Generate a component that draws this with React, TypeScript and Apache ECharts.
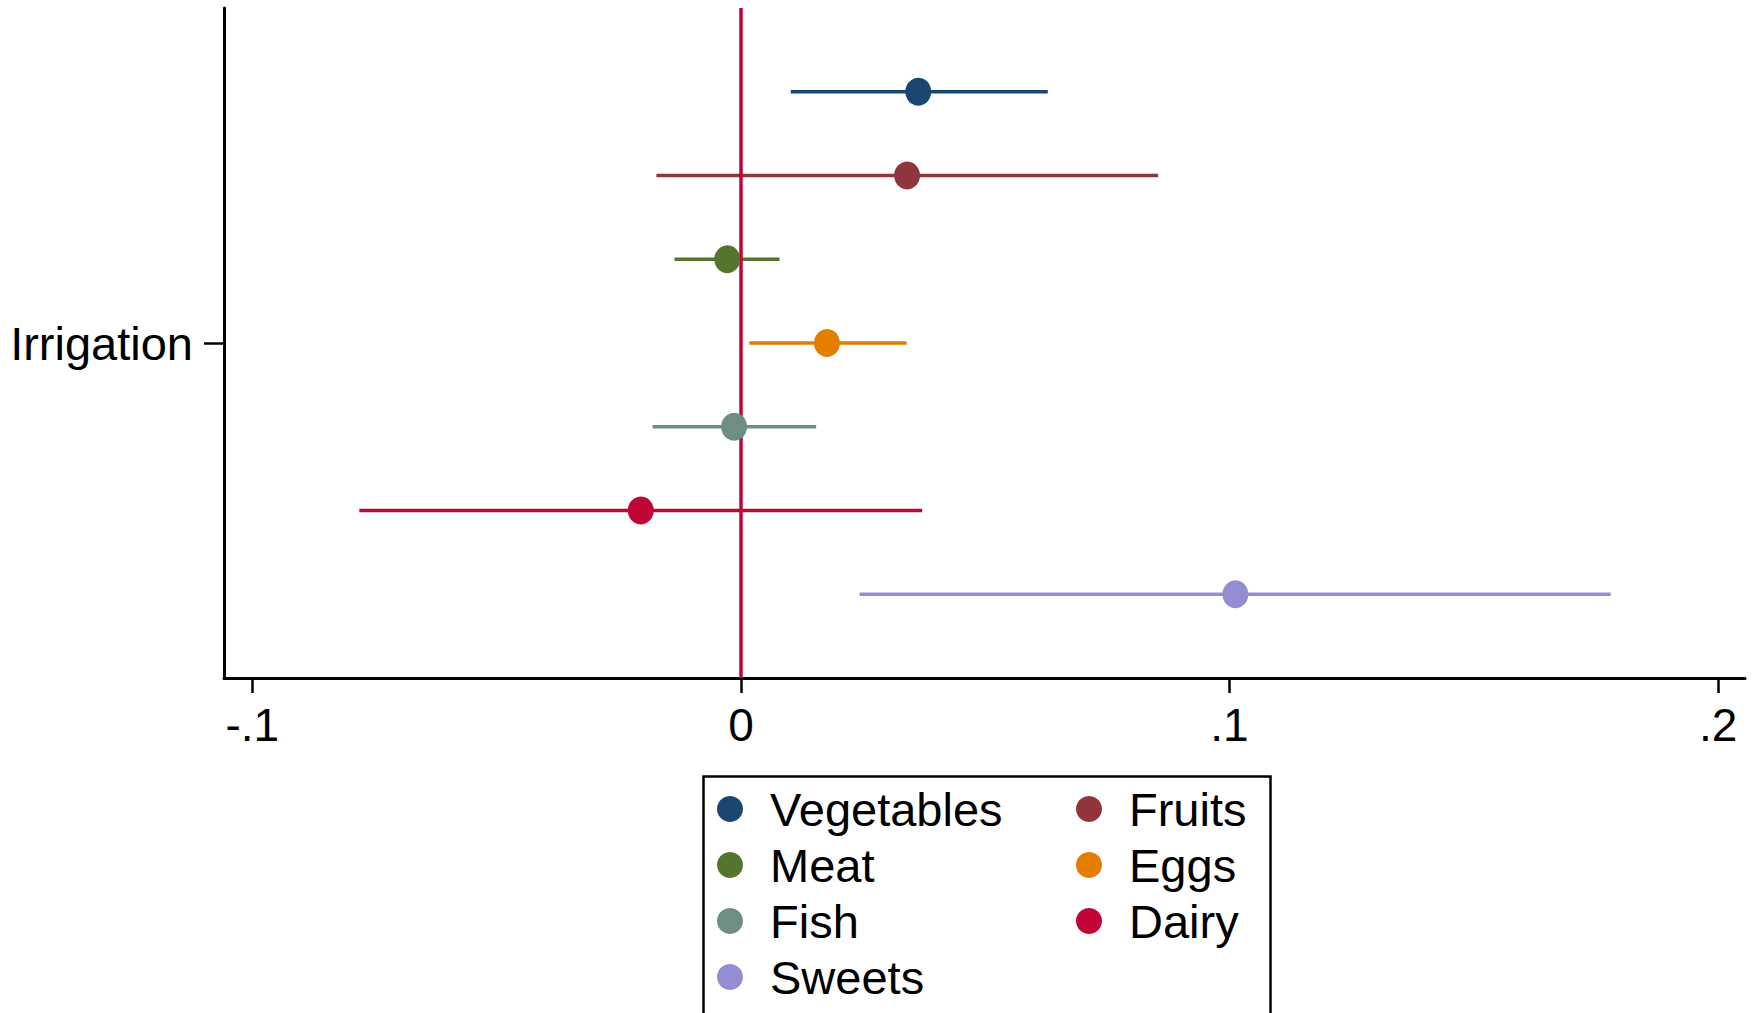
import React, { useEffect, useRef } from "react";
import * as echarts from "echarts";

const categories = ["Vegetables", "Fruits", "Meat", "Eggs", "Fish", "Dairy", "Sweets"];
const estimates = [0.0363, 0.034, -0.0028, 0.0176, -0.0014, -0.0205, 0.1012];
const lower = [0.0102, -0.0173, -0.0136, 0.0017, -0.0181, -0.0781, 0.0243];
const upper = [0.0628, 0.0854, 0.0079, 0.0339, 0.0154, 0.0371, 0.178];
const colors = ["#1a476f", "#90353b", "#55752f", "#e37e00", "#6e8e84", "#c10534", "#938dd2"];
const xTicks = [-0.1, 0, 0.1, 0.2];
const xTickLabels = ["-.1", "0", ".1", ".2"];
const yLabel = "Irrigation";
const legendCol1 = ["Vegetables", "Meat", "Fish", "Sweets"];
const legendCol2 = ["Fruits", "Eggs", "Dairy"];

const FONT = "Liberation Sans, Arial, Helvetica, sans-serif";

export default function App() {
  const ref = useRef<HTMLDivElement>(null);
  useEffect(() => {
    document.body.style.margin = "0";
    const chart = echarts.init(ref.current!, null, { renderer: "svg" });
    const n = categories.length;
    const rowY = (i: number) => (n - 1) / 2 - i;
    const series: any[] = [];
    series.push({
      name: "__zero",
      type: "line",
      data: [],
      markLine: {
        silent: true,
        symbol: "none",
        label: { show: false },
        lineStyle: { color: "#c10534", width: 3.5, type: "solid" },
        data: [{ xAxis: 0 }],
      },
      z: 2,
    });
    categories.forEach((c, i) => {
      series.push({
        name: c,
        type: "line",
        data: [
          [lower[i], rowY(i)],
          [upper[i], rowY(i)],
        ],
        showSymbol: false,
        symbol: "none",
        lineStyle: { color: colors[i], width: 3.5 },
        itemStyle: { color: colors[i] },
        z: 3,
      });
    });
    categories.forEach((c, i) => {
      series.push({
        name: c,
        type: "scatter",
        data: [[estimates[i], rowY(i)]],
        symbol: "circle",
        symbolSize: [26, 28],
        itemStyle: { color: colors[i], opacity: 1 },
        z: 5,
      });
    });
    const legendBase = {
      orient: "vertical",
      top: 784,
      padding: 0,
      itemWidth: 26,
      itemHeight: 26,
      itemGap: 6,
      icon: "circle",
      selectedMode: false,
      textStyle: {
        fontFamily: FONT,
        fontSize: 47,
        color: "#000",
        lineHeight: 50,
        padding: [0, 0, 0, 22],
      },
    };
    chart.setOption({
      animation: false,
      backgroundColor: "#fff",
      grid: { left: 224, right: 12, top: 8, bottom: 335, containLabel: false },
      xAxis: {
        type: "value",
        min: -0.1058,
        max: 0.2055,
        splitLine: { show: false },
        axisLine: { show: true, onZero: false, lineStyle: { color: "#000", width: 3 } },
        axisTick: {
          show: true,
          customValues: xTicks,
          length: 15,
          lineStyle: { color: "#000", width: 2.5 },
        },
        axisLabel: {
          customValues: xTicks,
          margin: 24,
          fontFamily: FONT,
          fontSize: 46,
          color: "#000",
          formatter: (v: number) => {
            const idx = xTicks.findIndex((t) => Math.abs(t - v) < 1e-9);
            return idx >= 0 ? xTickLabels[idx] : "";
          },
        },
      },
      yAxis: {
        type: "value",
        min: -4,
        max: 4,
        splitLine: { show: false },
        axisLine: { show: true, onZero: false, lineStyle: { color: "#000", width: 3 } },
        axisTick: {
          show: true,
          customValues: [0],
          length: 20,
          lineStyle: { color: "#000", width: 2.5 },
        },
        axisLabel: {
          customValues: [0],
          margin: 31,
          fontFamily: FONT,
          fontSize: 47,
          color: "#000",
          formatter: () => yLabel,
        },
      },
      legend: [
        { ...legendBase, left: 717, data: legendCol1 },
        { ...legendBase, left: 1076, data: legendCol2 },
      ],
      graphic: [
        {
          type: "rect",
          left: 701,
          top: 774,
          shape: { width: 567, height: 260 },
          style: { fill: "none", stroke: "#000", lineWidth: 2.5 },
          z: -1,
        },
      ],
      series,
    });
    return () => chart.dispose();
  }, []);
  return <div ref={ref} style={{ width: 1757, height: 1013 }} />;
}
